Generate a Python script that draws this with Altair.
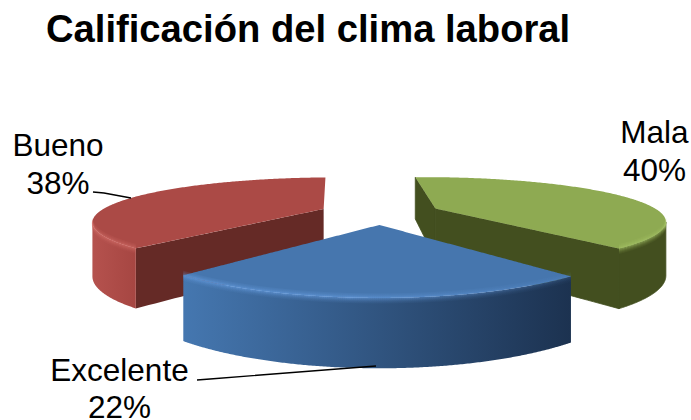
import numpy as np
import pandas as pd
import altair as alt

# Survey results
names = ["Mala", "Excelente", "Bueno"]
shares = [40, 22, 38]
title_text = "Calificación del clima laboral"

# Colours for each slice: top face, cut wall, rim gradient, highlight rgb
top_colors = ["#8EAA52", "#4676AE", "#AB4A46"]
wall_colors = ["#434F1F", "#1E3553", "#652A26"]
rim_left = ["#434F1F", "#4577B0", "#B5524E"]
rim_right = ["#434F1F", "#1C3250", "#A64642"]
glow_rgb = ["170,200,105", "105,160,228", "215,115,110"]

# Parameters of the tilted, exploded pie seen in perspective
ROTATION = -3.0
EXPLODE = 0.27
CX, CY = 380.0, 212.5
RX, RY = 225.0, 42.5
PERSP_X, PERSP_Y = 0.25, 0.29
DEPTH, DEPTH_PERSP = 51.5, 0.211

X = alt.X("x:Q", scale=alt.Scale(domain=[0, 691], nice=False, zero=False), axis=None)
Y = alt.Y("y:Q", scale=alt.Scale(domain=[420, 0], nice=False, zero=False), axis=None)


def project(u, v):
    """Ground-plane point to page position, plus the wall height below it."""
    sx = CX + RX * u / (1 - PERSP_X * v)
    sy = CY + RY * v / (1 - PERSP_Y * v)
    return sx, sy, DEPTH / (1 - DEPTH_PERSP * v)


def slice_points(start, sweep):
    mid = np.radians(start + sweep / 2)
    ou, ov = EXPLODE * np.sin(mid), -EXPLODE * np.cos(mid)
    th = np.radians(np.linspace(start, start + sweep, 240))
    arc = project(ou + np.sin(th), ov - np.cos(th))
    apex = project(np.array([ou]), np.array([ov]))
    return arc, apex


def convex_band(px, py):
    """Upper and lower outline of a convex polygon over a shared x grid."""
    lo, hi = int(np.argmin(px)), int(np.argmax(px))
    n = len(px)
    a = [(lo + i) % n for i in range(((hi - lo) % n) + 1)]
    b = [(hi + i) % n for i in range(((lo - hi) % n) + 1)]
    chain_a = np.array(a)
    chain_b = np.array(b)[::-1]
    grid = np.unique(np.concatenate([px[chain_a], px[chain_b]]))
    ya = np.interp(grid, px[chain_a], py[chain_a])
    yb = np.interp(grid, px[chain_b], py[chain_b])
    return pd.DataFrame({"x": grid, "y": np.minimum(ya, yb), "y2": np.maximum(ya, yb)})


def edge_wall(p, q):
    """Flat cut face hanging below the straight edge p -> q."""
    t = np.linspace(0, 1, 30)
    if p[0] > q[0]:
        p, q = q, p
    return pd.DataFrame({
        "x": p[0] + (q[0] - p[0]) * t,
        "y": p[1] + (q[1] - p[1]) * t,
        "y2": p[1] + (q[1] - p[1]) * t + p[2] + (q[2] - p[2]) * t,
    })


def band(df, fill, seam=None):
    # A thin outline in the face colour closes hairline gaps between same-coloured faces
    style = {"stroke": seam, "strokeWidth": 0.8} if seam else {}
    return alt.Chart(df).mark_area(fill=fill, interpolate="linear", **style).encode(x=X, y=Y, y2="y2:Q")


def linear_fill(left, right):
    return alt.Gradient(
        gradient="linear", x1=0, x2=1, y1=0, y2=0,
        stops=[alt.GradientStop(color=left, offset=0), alt.GradientStop(color=right, offset=1)],
    )


layers = []
starts = ROTATION + np.concatenate([[0], np.cumsum(shares)[:-1]]) * 3.6
# Back slices first, the front slice over them
for i in [0, 2, 1]:
    arc, apex = slice_points(starts[i], shares[i] * 3.6)
    ax, ay, ah = arc
    a0 = (ax[0], ay[0], ah[0])
    a1 = (ax[-1], ay[-1], ah[-1])
    ap = (apex[0][0], apex[1][0], apex[2][0])

    # Visible outer rim: only where the arc faces the viewer
    if i == 0:
        keep = np.arange(int(np.argmax(ax)), len(ax))
    elif i == 2:
        keep = np.arange(0, int(np.argmin(ax)) + 1)
    else:
        keep = np.arange(len(ax))
    keep = keep[np.argsort(ax[keep])]
    rim = pd.DataFrame({"x": ax[keep], "y": ay[keep], "y2": ay[keep] + ah[keep]})

    if i == 0:
        layers.append(band(edge_wall(a0, ap), wall_colors[i], seam=wall_colors[i]))
        layers.append(band(edge_wall(ap, a1), wall_colors[i], seam=wall_colors[i]))
        layers.append(band(rim, wall_colors[i], seam=wall_colors[i]))
    else:
        if i == 2:
            layers.append(band(edge_wall(a0, ap), wall_colors[i]))
        layers.append(band(rim, linear_fill(rim_left[i], rim_right[i])))

    poly_x = np.concatenate([ax, [ap[0]]])
    poly_y = np.concatenate([ay, [ap[1]]])
    layers.append(band(convex_band(poly_x, poly_y), top_colors[i]))

    # Soft bevel following the rim's top edge
    for off, alpha in [(-4, .12), (-3, .2), (-2, .32), (-1, .5), (0, .7), (1, .55), (2, .38), (3, .24), (4, .14), (5, .07)]:
        strip = pd.DataFrame({"x": ax[keep], "y": ay[keep] + off})
        if i == 1:
            stroke = alt.Gradient(
                gradient="linear", x1=0, x2=1, y1=0, y2=0,
                stops=[
                    alt.GradientStop(color=f"rgba({glow_rgb[i]},{alpha})", offset=0),
                    alt.GradientStop(color=f"rgba({glow_rgb[i]},{alpha})", offset=0.45),
                    alt.GradientStop(color=f"rgba({glow_rgb[i]},{alpha * .25:.3f})", offset=1),
                ],
            )
        else:
            stroke = f"rgba({glow_rgb[i]},{alpha})"
        layers.append(alt.Chart(strip).mark_line(stroke=stroke, strokeWidth=1).encode(x=X, y=Y))

# Leader lines from the labels to their slices
leaders = pd.DataFrame({
    "x": [93, 104, 131, 197, 210, 376],
    "y": [192, 193, 198, 380, 379, 366],
    "who": ["Bueno"] * 3 + ["Excelente"] * 3,
})
layers.append(alt.Chart(leaders).mark_line(color="#000000", strokeWidth=1.4).encode(x=X, y=Y, detail="who:N"))

# Category and percentage labels, placed by their text baselines
label_x = {"Mala": 654.5, "Excelente": 119.5, "Bueno": 58}
label_y = {"Mala": (143, 181), "Excelente": (381, 418), "Bueno": (156, 194)}
rows = []
for name, share in zip(names, shares):
    rows.append({"x": label_x[name], "y": label_y[name][0], "t": name})
    rows.append({"x": label_x[name], "y": label_y[name][1], "t": f"{share}%"})
layers.append(
    alt.Chart(pd.DataFrame(rows))
    .mark_text(font="Liberation Sans", fontSize=31.5, color="#000000", align="center", baseline="alphabetic")
    .encode(x=X, y=Y, text="t:N")
)

# Heading
layers.append(
    alt.Chart(pd.DataFrame({"x": [46], "y": [42], "t": [title_text]}))
    .mark_text(font="Liberation Sans", fontSize=38.2, fontWeight="bold", color="#000000", align="left", baseline="alphabetic")
    .encode(x=X, y=Y, text="t:N")
)

chart = (
    alt.layer(*layers)
    .properties(width=691, height=420, padding=0, autosize=alt.AutoSizeParams(type="none"), background="#ffffff")
    .configure_view(stroke=None)
)
chart.save("out.html", embed_options={"renderer": "svg", "actions": False})
